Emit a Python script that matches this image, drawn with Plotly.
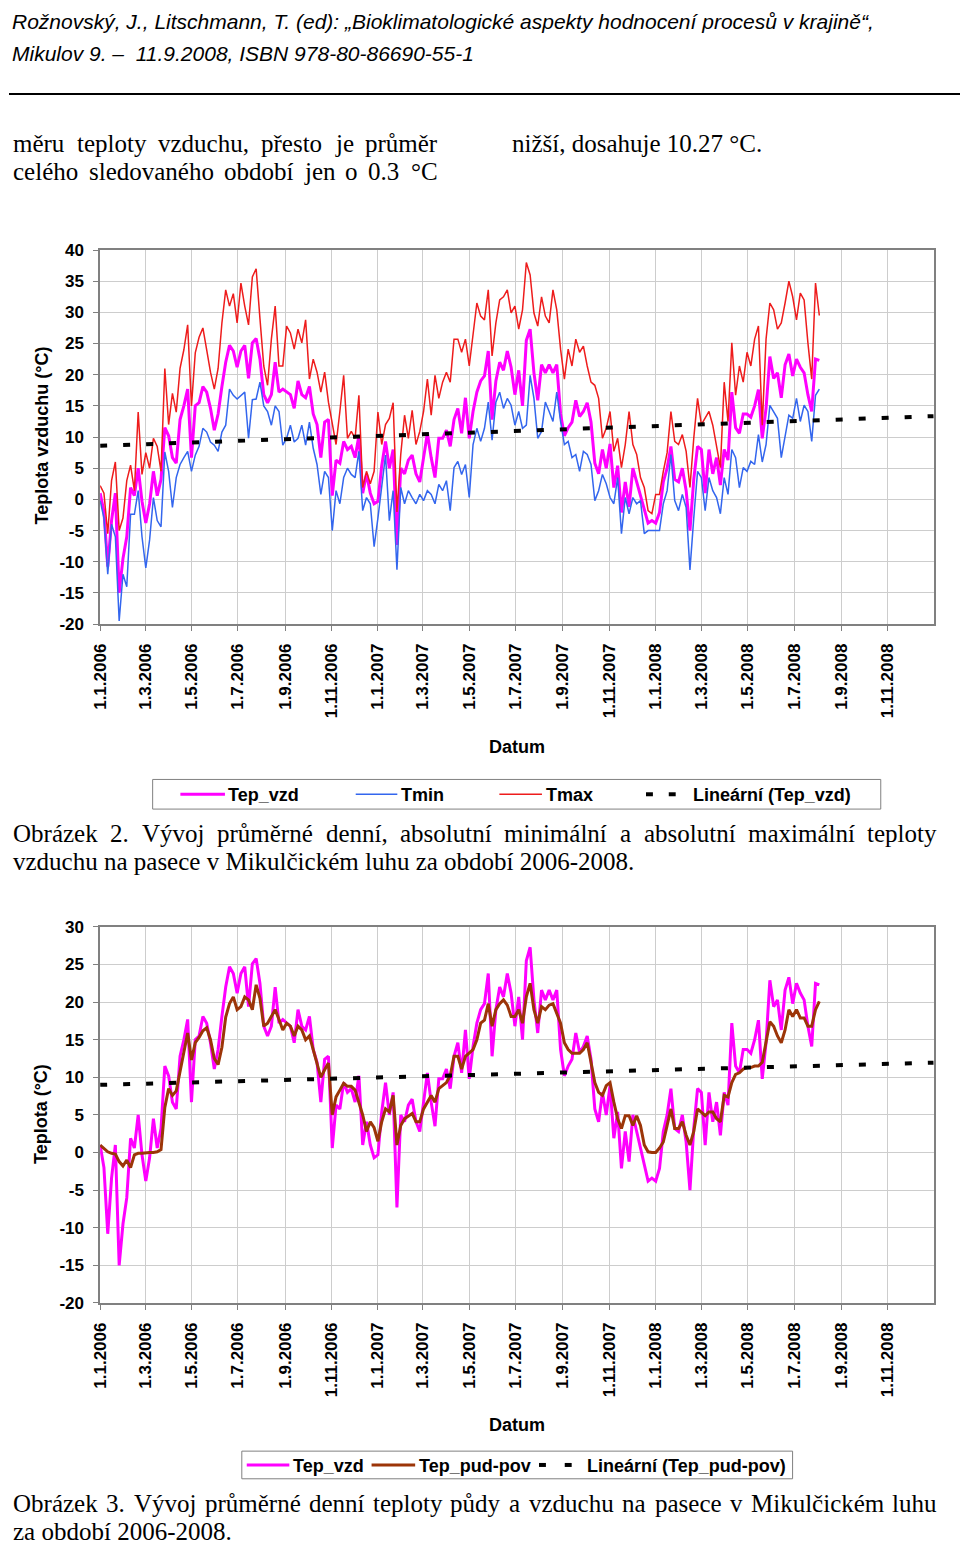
import pandas as pd
import plotly.graph_objects as go

W, H = 960, 1552

# ---------------- data (5-day sampling) ----------------
start_date = "2006-01-01"
step_days = 5

tep_vzd = [1.0, -2.0, -10.8, -3.4, 1.0, -15.0, -9.5, -6.0, 1.9, 0.6,
           5.0, -0.3, -3.8, -0.7, 4.5, 0.6, 3.2, 11.5, 10.2, 6.7,
           5.8, 12.8, 15.0, 17.7, 6.7, 15.0, 15.5, 18.1, 17.2, 14.6,
           11.1, 13.7, 18.1, 22.0, 24.7, 23.8, 21.2, 23.8, 24.7, 19.4,
           25.1, 25.8, 22.5, 16.8, 15.5, 16.8, 22.0, 17.2, 17.7, 17.2,
           16.8, 14.6, 19.0, 16.8, 16.3, 18.1, 13.7, 12.0, 6.7, 12.4,
           12.8, 0.6, 6.3, 5.8, 9.3, 8.0, 8.5, 6.7, 10.2, 1.0,
           4.1, 1.0, -0.7, -0.3, 5.4, 9.3, 5.0, 8.0, -7.3, 5.0,
           4.1, 6.3, 7.1, 4.1, 2.8, 6.7, 10.6, 6.7, 3.5, 9.8,
           9.8, 11.1, 8.5, 12.8, 14.6, 10.6, 16.3, 9.8, 14.1, 17.2,
           19.0, 19.8, 23.8, 12.8, 19.0, 22.0, 20.7, 23.8, 21.2, 16.8,
           20.7, 15.0, 25.5, 27.3, 20.3, 15.9, 21.6, 20.3, 21.6, 20.3,
           21.6, 13.7, 10.2, 11.5, 12.4, 15.9, 13.3, 14.1, 15.5, 12.4,
           5.8, 4.1, 8.0, 5.0, 8.9, 1.9, 5.4, -2.1, 2.8, -1.2,
           5.0, 2.8, 0.6, -1.2, -3.8, -3.4, -3.8, -2.1, 2.8, 5.0,
           8.5, 3.2, 2.8, 5.0, 1.4, -5.0, 3.2, 8.5, 8.0, 1.0,
           8.0, 4.1, 6.7, 2.3, 8.0, 6.3, 17.2, 11.5, 10.6, 13.7,
           13.7, 13.2, 15.0, 17.6, 9.8, 14.6, 22.9, 19.4, 20.3, 16.3,
           21.6, 23.3, 19.8, 22.5, 21.2, 20.3, 16.8, 14.1, 22.5, 22.3]

tmin = [-0.2, -3.0, -12.0, -4.0, -6.0, -19.5, -12.0, -14.0, -2.4, -2.4,
        1.4, -6.0, -11.0, -6.5, 0.3, -3.4, -4.4, 7.6, 4.5, -1.3,
        3.5, 5.6, 6.7, 7.7, 4.5, 7.1, 8.5, 11.4, 10.8, 9.2,
        8.7, 7.7, 10.8, 11.9, 17.7, 16.7, 16.1, 16.7, 17.2, 9.8,
        16.0, 16.1, 18.8, 15.0, 14.1, 11.9, 15.0, 14.1, 8.7, 9.8,
        11.9, 9.2, 9.8, 11.9, 8.7, 12.4, 8.2, 5.6, 0.8, 4.5,
        3.5, -5.0, 1.4, -0.7, 3.5, 5.0, 4.0, 3.5, 7.7, -1.8,
        0.3, -0.7, -7.6, -3.0, 2.5, 7.1, -3.4, 1.4, -11.3, 1.9,
        -0.7, 1.4, 0.3, -0.7, 0.8, -0.2, 1.4, 0.8, -0.7, 2.4,
        1.4, 3.0, -1.8, 5.1, 6.1, 4.0, 5.6, 0.3, 8.8, 11.4,
        9.3, 11.4, 15.6, 9.5, 15.6, 17.2, 14.6, 16.2, 15.1, 11.9,
        14.1, 11.4, 11.9, 19.9, 16.2, 9.8, 10.9, 15.6, 14.1, 12.5,
        17.2, 12.5, 8.8, 9.3, 6.7, 7.2, 4.5, 7.7, 7.2, 5.6,
        -0.2, 1.4, 4.0, 2.5, 0.3, -0.7, 3.5, -5.5, 0.3, -2.3,
        0.3, -0.7, -0.2, -5.5, -5.0, -5.0, -5.0, -5.0, -0.7, 1.4,
        7.2, -0.2, -1.8, 0.8, -1.3, -11.3, -3.0, 4.5, 3.5, -1.8,
        3.5, 1.4, 0.3, -2.3, 3.5, 0.8, 8.0, 6.7, 1.9, 5.1,
        4.5, 6.1, 5.6, 10.4, 6.0, 8.8, 15.1, 14.1, 13.0, 6.7,
        9.8, 13.5, 13.0, 16.2, 12.5, 15.1, 14.1, 9.3, 16.7, 17.7]

tmax = [2.2, 1.0, -5.5, 3.0, 6.0, -5.0, -3.0, 3.0, 5.5, 1.4,
        14.0, 4.0, 7.5, 5.0, 9.8, 8.5, 4.5, 21.0, 12.0, 17.0,
        14.0, 21.0, 24.0, 28.0, 15.0, 23.5, 26.0, 27.5, 24.0, 20.4,
        17.7, 21.0, 28.3, 33.6, 31.0, 33.0, 28.3, 34.7, 31.0, 28.0,
        35.7, 37.0, 29.0, 21.4, 18.3, 25.7, 31.0, 21.4, 21.4, 27.8,
        26.7, 24.1, 27.3, 25.1, 28.8, 19.3, 22.5, 20.4, 17.2, 20.4,
        15.6, 11.9, 8.8, 14.1, 19.9, 9.8, 10.9, 9.8, 16.7, 1.9,
        4.5, 2.5, 4.5, 14.0, 8.8, 12.0, 13.0, 15.5, -2.0, 7.2,
        13.5, 9.8, 14.3, 8.8, 10.9, 14.1, 19.3, 13.5, 19.9, 16.2,
        18.8, 20.4, 18.8, 25.7, 25.7, 23.6, 25.7, 21.4, 26.2, 31.5,
        29.4, 28.8, 33.6, 23.0, 28.3, 32.0, 32.5, 33.6, 29.9, 31.0,
        27.3, 30.4, 38.0, 36.0, 29.9, 27.8, 32.5, 29.4, 28.3, 33.6,
        30.4, 24.1, 19.3, 24.1, 21.4, 25.7, 23.6, 24.6, 21.4, 18.8,
        18.3, 16.2, 9.8, 11.4, 14.1, 7.7, 9.8, 5.1, 8.8, 14.1,
        8.8, 7.2, 3.5, 1.9, -1.8, -2.3, 0.8, 0.8, 4.5, 7.5,
        14.1, 9.3, 8.8, 10.4, 7.7, 1.9, 9.8, 16.2, 12.0, 13.0,
        14.1, 11.9, 8.8, 5.1, 18.8, 12.5, 25.1, 16.7, 21.4, 18.8,
        23.6, 21.4, 25.7, 27.8, 11.9, 25.7, 31.5, 30.4, 27.3, 28.3,
        31.5, 35.0, 32.5, 28.8, 33.1, 32.0, 25.1, 19.3, 34.7, 29.5]

tep_pud_pov = [1.0, 0.6, 0.1, -0.1, -0.2, -1.2, -1.8, -1.0, -2.0, -0.3,
               -0.1, -0.1, 0.0, 0.0, 0.0, 0.1, 0.4, 6.0, 8.5, 7.6,
               8.2, 10.8, 13.8, 15.9, 12.3, 14.6, 15.3, 16.2, 16.6, 15.0,
               12.5, 11.7, 14.0, 18.0, 19.8, 20.7, 19.0, 19.4, 20.7, 20.3,
               19.0, 22.3, 20.5, 16.8, 17.2, 18.1, 19.0, 17.7, 16.3, 17.2,
               16.8, 15.5, 16.8, 16.3, 15.0, 15.5, 13.7, 11.9, 10.0, 11.0,
               11.9, 5.0, 7.4, 8.3, 9.2, 8.8, 8.8, 8.3, 6.8, 5.0,
               2.8, 4.1, 3.3, 1.5, 4.1, 5.8, 5.4, 7.6, 1.0, 3.6,
               4.5, 4.9, 5.2, 4.1, 4.1, 5.8, 6.7, 7.6, 6.7, 8.5,
               8.9, 9.3, 10.2, 12.8, 12.8, 11.1, 12.8, 13.3, 13.7, 15.0,
               17.2, 17.6, 19.8, 16.8, 19.0, 19.8, 20.3, 19.6, 18.1, 18.1,
               19.0, 17.2, 20.7, 22.5, 19.0, 17.2, 19.4, 19.0, 19.6, 19.8,
               18.5, 17.2, 14.6, 13.7, 13.2, 13.2, 13.2, 13.7, 14.6, 12.0,
               9.3, 8.0, 7.6, 8.9, 9.3, 6.7, 4.5, 3.2, 4.9, 4.9,
               3.6, 4.9, 3.6, 1.0, 0.1, 0.0, 0.0, 0.6, 1.4, 3.6,
               5.8, 3.2, 3.2, 4.1, 2.3, 1.0, 2.8, 5.8, 5.4, 4.9,
               5.4, 5.4, 4.5, 4.1, 7.6, 7.4, 9.3, 10.4, 10.6, 11.1,
               11.3, 11.3, 11.5, 11.5, 12.0, 14.6, 17.4, 16.8, 15.5, 14.6,
               16.3, 19.0, 18.1, 19.0, 17.9, 17.9, 16.8, 16.8, 19.0, 20.1]

trend_dates = ["2006-01-01", "2008-12-31"]
trend_tep_vzd = [8.6, 13.35]
trend_tep_pud = [9.0, 11.95]

tick_dates = ["2006-01-01", "2006-03-01", "2006-05-01", "2006-07-01", "2006-09-01", "2006-11-01",
              "2007-01-01", "2007-03-01", "2007-05-01", "2007-07-01", "2007-09-01", "2007-11-01",
              "2008-01-01", "2008-03-01", "2008-05-01", "2008-07-01", "2008-09-01", "2008-11-01"]
tick_labels = ["1.1.2006", "1.3.2006", "1.5.2006", "1.7.2006", "1.9.2006", "1.11.2006",
               "1.1.2007", "1.3.2007", "1.5.2007", "1.7.2007", "1.9.2007", "1.11.2007",
               "1.1.2008", "1.3.2008", "1.5.2008", "1.7.2008", "1.9.2008", "1.11.2008"]
y1_ticks = [-20, -15, -10, -5, 0, 5, 10, 15, 20, 25, 30, 35, 40]
y2_ticks = [-20, -15, -10, -5, 0, 5, 10, 15, 20, 25, 30]

dates = pd.date_range(start_date, periods=len(tep_vzd), freq=f"{step_days}D")

# ---------------- styles ----------------
C_VZD = "#FF00FF"
C_MIN = "#3366EE"
C_MAX = "#EE1C1C"
C_PUD = "#9C3508"
SANS = "Liberation Sans, Arial, sans-serif"
SERIF = "Liberation Serif, Times New Roman, serif"
DASH = "7px,16px"

fig = go.Figure()
# chart 1
fig.add_trace(go.Scatter(x=dates, y=tep_vzd, mode="lines", name="Tep_vzd",
                         line=dict(color=C_VZD, width=3), xaxis="x", yaxis="y", showlegend=False))
fig.add_trace(go.Scatter(x=dates, y=tmin, mode="lines", name="Tmin",
                         line=dict(color=C_MIN, width=1.5), xaxis="x", yaxis="y", showlegend=False))
fig.add_trace(go.Scatter(x=dates, y=tmax, mode="lines", name="Tmax",
                         line=dict(color=C_MAX, width=1.5), xaxis="x", yaxis="y", showlegend=False))
fig.add_trace(go.Scatter(x=trend_dates, y=trend_tep_vzd, mode="lines", name="Lineární (Tep_vzd)",
                         line=dict(color="black", width=4, dash=DASH), xaxis="x", yaxis="y", showlegend=False))
# chart 2
fig.add_trace(go.Scatter(x=dates, y=tep_vzd, mode="lines", name="Tep_vzd",
                         line=dict(color=C_VZD, width=3), xaxis="x2", yaxis="y2", showlegend=False))
fig.add_trace(go.Scatter(x=dates, y=tep_pud_pov, mode="lines", name="Tep_pud-pov",
                         line=dict(color=C_PUD, width=3), xaxis="x2", yaxis="y2", showlegend=False))
fig.add_trace(go.Scatter(x=trend_dates, y=trend_tep_pud, mode="lines", name="Lineární (Tep_pud-pov)",
                         line=dict(color="black", width=4, dash=DASH), xaxis="x2", yaxis="y2", showlegend=False))


def px_x(p):
    return p / W


def px_y(p):
    return 1 - p / H


def xaxis_cfg(anchor):
    return dict(type="date", range=["2006-01-01", "2009-01-01"], domain=[px_x(92), px_x(934)],
                tickvals=tick_dates, ticktext=tick_labels, tickangle=-90,
                tickfont=dict(family=SANS, size=17, color="black", weight="bold"),
                showgrid=True, gridcolor="#CDCDCD", gridwidth=1,
                showline=True, linecolor="#808080", linewidth=1.5, mirror=True,
                ticks="outside", ticklen=5, tickcolor="#808080", ticklabelstandoff=6,
                zeroline=False, anchor=anchor, fixedrange=True)


def yaxis_cfg(anchor, ticks, top_px, bot_px):
    return dict(range=[ticks[0], ticks[-1]], domain=[px_y(bot_px), px_y(top_px)],
                tickvals=ticks, ticktext=[str(t) for t in ticks],
                tickfont=dict(family=SANS, size=17, color="black", weight="bold"),
                showgrid=True, gridcolor="#CDCDCD", gridwidth=1,
                showline=True, linecolor="#808080", linewidth=1.5, mirror=True,
                ticks="outside", ticklen=5, tickcolor="#808080", ticklabelstandoff=6,
                zeroline=False, anchor=anchor, fixedrange=True)


annotations = []
shapes = []


def ann(text, x, y, size, family=SANS, xanchor="left", yanchor="middle", angle=0):
    annotations.append(dict(text=text, x=px_x(x), y=px_y(y), xref="paper", yref="paper",
                            xanchor=xanchor, yanchor=yanchor, showarrow=False, textangle=angle,
                            borderpad=0, font=dict(size=size, family=family, color="black")))


# Times New Roman advance widths (per 1000 em) for justified text lines
TIMES = {"a": 444, "b": 500, "c": 444, "d": 500, "e": 444, "f": 333, "g": 500, "h": 500, "i": 278,
         "j": 278, "k": 500, "l": 278, "m": 778, "n": 500, "o": 500, "p": 500, "r": 333, "s": 389,
         "t": 278, "u": 500, "v": 500, "x": 500, "y": 500, "z": 444,
         "á": 444, "é": 444, "ě": 444, "í": 278, "ý": 500, "ů": 500, "č": 444, "ř": 333, "š": 389,
         "ž": 444, "O": 722, "V": 722, "M": 889, "C": 667, ".": 250, ",": 250, "-": 333, "°": 400}


def justify(text, y, x0, x1, size=25):
    ws = text.split(" ")
    widths = [sum(TIMES.get(ch, 500) for ch in w) / 1000 * size for w in ws]
    gap = (x1 - x0 - sum(widths)) / (len(ws) - 1)
    x = x0
    for w, wd in zip(ws, widths):
        ann(w, x, y, size, SERIF)
        x += wd + gap


# header
ann("<i>Rožnovský, J., Litschmann, T. (ed): „Bioklimatologické aspekty hodnocení procesů v krajině“,</i>",
    2, 13, 21)
ann("<i>Mikulov 9. –  11.9.2008, ISBN 978-80-86690-55-1</i>", 2, 45, 21)
shapes.append(dict(type="line", xref="paper", yref="paper", x0=0, x1=1, y0=px_y(86), y1=px_y(86),
                   line=dict(color="black", width=2)))

# paragraph (two columns)
justify("měru teploty vzduchu, přesto je průměr", 136, 3, 431)
justify("celého sledovaného období jen o 0.3 °C", 165, 3, 431)
ann("nižší, dosahuje 10.27 °C.", 507, 136, 25, SERIF)

# chart 1 titles
ann("<b>Teplota vzduchu (°C)</b>", 33, 432, 18, angle=-90, xanchor="center")
ann("<b>Datum</b>", 513, 747, 18, xanchor="center")

# legend 1
shapes.append(dict(type="rect", xref="paper", yref="paper", x0=px_x(145), x1=px_x(880),
                   y0=px_y(810), y1=px_y(780), line=dict(color="#808080", width=1), fillcolor="white"))
for (x0, x1, col, wd) in [(173, 218, C_VZD, 3), (350, 392, C_MIN, 1.5), (495, 538, C_MAX, 1.5),
                          (643, 650, "black", 4), (666, 673, "black", 4)]:
    shapes.append(dict(type="line", xref="paper", yref="paper", x0=px_x(x0), x1=px_x(x1),
                       y0=px_y(795), y1=px_y(795), line=dict(color=col, width=wd)))
ann("<b>Tep_vzd</b>", 220, 796, 18)
ann("<b>Tmin</b>", 395, 796, 18)
ann("<b>Tmax</b>", 541, 796, 18)
ann("<b>Lineární (Tep_vzd)</b>", 689, 796, 18)

# caption 2
justify("Obrázek 2. Vývoj průměrné denní, absolutní minimální a absolutní maximální teploty", 835, 3, 935)
ann("vzduchu na pasece v Mikulčickém luhu za období 2006-2008.", 3, 863, 25, SERIF)

# chart 2 titles
ann("<b>Teplota (°C)</b>", 33, 1119, 18, angle=-90, xanchor="center")
ann("<b>Datum</b>", 513, 1434, 18, xanchor="center")

# legend 2
shapes.append(dict(type="rect", xref="paper", yref="paper", x0=px_x(235), x1=px_x(791),
                   y0=px_y(1488), y1=px_y(1460), line=dict(color="#808080", width=1), fillcolor="white"))
for (x0, x1, col, wd) in [(240, 283, C_VZD, 3), (366, 410, C_PUD, 3),
                          (535, 542, "black", 4), (561, 568, "black", 4)]:
    shapes.append(dict(type="line", xref="paper", yref="paper", x0=px_x(x0), x1=px_x(x1),
                       y0=px_y(1474), y1=px_y(1474), line=dict(color=col, width=wd)))
ann("<b>Tep_vzd</b>", 286, 1475, 18)
ann("<b>Tep_pud-pov</b>", 413, 1475, 18)
ann("<b>Lineární (Tep_pud-pov)</b>", 582, 1475, 18)

# caption 3
justify("Obrázek 3. Vývoj průměrné denní teploty půdy a vzduchu na pasece v Mikulčickém luhu", 1513, 3, 935)
ann("za období 2006-2008.", 3, 1541, 25, SERIF)

fig.update_layout(
    width=W, height=H,
    margin=dict(l=0, r=0, t=0, b=0, pad=0),
    paper_bgcolor="white", plot_bgcolor="white",
    showlegend=False,
    xaxis=xaxis_cfg("y"),
    yaxis=yaxis_cfg("x", y1_ticks, 244, 622.7),
    xaxis2=xaxis_cfg("y2"),
    yaxis2=yaxis_cfg("x2", y2_ticks, 929.3, 1310),
    annotations=annotations,
    shapes=shapes,
)

page_fix = (
    "document.documentElement.style.margin='0px';"
    "document.documentElement.style.overflow='hidden';"
    "document.body.style.margin='0px';document.body.style.padding='0px';"
    "var gd=document.getElementsByClassName('plotly-graph-div')[0];"
    "gd.style.position='absolute';gd.style.left='0px';gd.style.top='0px';"
)

fig.write_html("out.html", config={"displayModeBar": False}, post_script=page_fix)
